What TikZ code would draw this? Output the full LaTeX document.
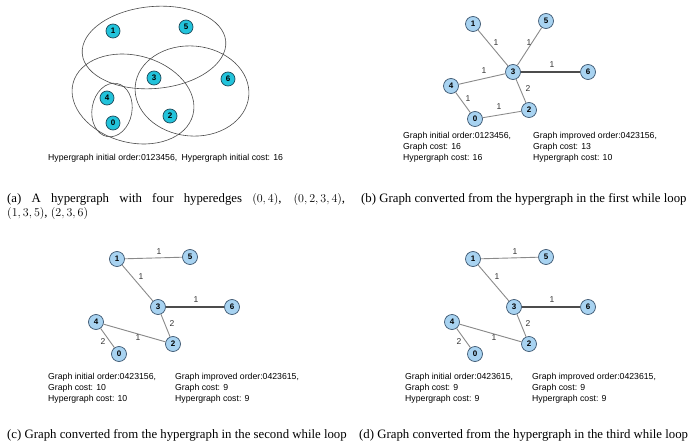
\documentclass[tikz,border=0pt]{standalone}
\usepackage{fontspec}
\setmainfont{Liberation Serif}
\setsansfont{Liberation Sans}
\definecolor{hvfill}{HTML}{22C3DB}
\definecolor{hvline}{HTML}{1D4A5A}
\definecolor{gvfill}{HTML}{A8D3F1}
\definecolor{gvline}{HTML}{3C5670}
\definecolor{ringgray}{HTML}{4A4A4A}
\definecolor{edgegray}{HTML}{8A8A8A}
\definecolor{strongedge}{HTML}{4C4C4C}
\begin{document}
\begin{tikzpicture}[x=1pt,y=-1pt,
  hv/.style={circle,draw=hvline,fill=hvfill,line width=0.7pt,minimum size=14pt,inner sep=0pt,
    font=\sffamily\bfseries\fontsize{8}{9}\selectfont},
  gv/.style={circle,draw=gvline,fill=gvfill,line width=0.7pt,minimum size=15pt,inner sep=0pt,
    font=\sffamily\bfseries\fontsize{8}{9}\selectfont},
  ring/.style={draw=ringgray,line width=0.6pt},
  gedge/.style={draw=edgegray,line width=0.9pt},
  strong/.style={draw=strongedge,line width=1.3pt},
  wt/.style={font=\sffamily\fontsize{8.5}{9}\selectfont,text=black!80,inner sep=0pt},
  info/.style={font=\sffamily\fontsize{8.7}{10.8}\selectfont,align=left,anchor=north west,inner sep=0pt},
  subcap/.style={font=\fontsize{12.8}{14}\selectfont,anchor=west,inner sep=0pt}
]
\useasboundingbox (0,0) rectangle (696,444);

% ---------- (a) hypergraph ----------
\draw[ring,rotate around={5:(154,47.5)}] (154,47.5) ellipse [x radius=72, y radius=41];
\draw[ring,rotate around={-15:(133,99)}] (133,99) ellipse [x radius=62, y radius=43.5];
\draw[ring,rotate around={-5:(192,91)}] (192,91) ellipse [x radius=57, y radius=45];
\draw[ring,rotate around={-10:(112,110)}] (112,110) ellipse [x radius=20, y radius=27];

\node[hv] (a1) at (113,31) {1};
\node[hv] (a5) at (186,27) {5};
\node[hv] (a3) at (154,78) {3};
\node[hv] (a6) at (228,79) {6};
\node[hv] (a4) at (107,98) {4};
\node[hv] (a0) at (113,123) {0};
\node[hv] (a2) at (170,116) {2};

\node[info,anchor=west] (atext) at (48,158)
  {Hypergraph initial order:0123456,\enspace Hypergraph initial cost: 16};

% ---------- (b) first while loop ----------
\node[gv] (b1) at (473,24) {1};
\node[gv] (b5) at (546,21) {5};
\node[gv] (b3) at (513,72) {3};
\node[gv] (b6) at (588,72) {6};
\node[gv] (b4) at (451,86) {4};
\node[gv] (b0) at (475,119) {0};
\node[gv] (b2) at (529,110) {2};
\draw[gedge] (b1) -- (b3);
\draw[gedge] (b5) -- (b3);
\draw[strong] (b3) -- (b6);
\draw[gedge] (b4) -- (b3);
\draw[gedge] (b3) -- (b2);
\draw[gedge] (b4) -- (b0);
\draw[gedge] (b0) -- (b2);
\node[wt] (bw13) at (496,43) {1};
\node[wt] (bw53) at (529,43) {1};
\node[wt] (bw36) at (552,65) {1};
\node[wt] (bw43) at (484,71) {1};
\node[wt] (bw32) at (528,89) {2};
\node[wt] (bw40) at (468,99) {1};
\node[wt] (bw02) at (499,107) {1};

\node[info] (binit) at (403,132)
  {Graph initial order:0123456,\\Graph cost: 16\\Hypergraph cost: 16};
\node[info] (bimp) at (533,132)
  {Graph improved order:0423156,\\Graph cost: 13\\Hypergraph cost: 10};

% ---------- (c) and (d): same graph, drawn twice ----------
\foreach \px/\sx in {c/0,d/356}{
  \begin{scope}[shift={(\sx,0)},name prefix=\px-]
    \node[gv] (n1) at (117,259) {1};
    \node[gv] (n5) at (190,257) {5};
    \node[gv] (n3) at (158,307) {3};
    \node[gv] (n6) at (232,307) {6};
    \node[gv] (n4) at (96,322) {4};
    \node[gv] (n2) at (173,344) {2};
    \node[gv] (n0) at (119,354) {0};
    \draw[gedge] (n1) -- (n5);
    \draw[gedge] (n1) -- (n3);
    \draw[strong] (n3) -- (n6);
    \draw[gedge] (n3) -- (n2);
    \draw[gedge] (n4) -- (n2);
    \draw[gedge] (n4) -- (n0);
    \node[wt] (w15) at (159,252) {1};
    \node[wt] (w13) at (141,277) {1};
    \node[wt] (w36) at (196,300) {1};
    \node[wt] (w32) at (172,324) {2};
    \node[wt] (w42) at (138,338) {1};
    \node[wt] (w40) at (103,342) {2};
  \end{scope}
}

\node[info] (cinit) at (48,373)
  {Graph initial order:0423156,\\Graph cost: 10\\Hypergraph cost: 10};
\node[info] (cimp) at (175,373)
  {Graph improved order:0423615,\\Graph cost: 9\\Hypergraph cost: 9};
\node[info] (dinit) at (405,373)
  {Graph initial order:0423615,\\Graph cost: 9\\Hypergraph cost: 9};
\node[info] (dimp) at (532,373)
  {Graph improved order:0423615,\\Graph cost: 9\\Hypergraph cost: 9};

% ---------- sub-captions ----------
\node[anchor=north west,inner sep=0pt,font=\fontsize{12.8}{14.5}\selectfont] (capa) at (7,193)
  {\parbox{338pt}{(a) A hypergraph with four hyperedges $(0,4)$, $(0,2,3,4)$,\linebreak
   $(1,3,5)$, $(2,3,6)$}};
\node[subcap] (capb) at (361,199) {(b) Graph converted from the hypergraph in the first while loop};
\node[subcap] (capc) at (7,435) {(c) Graph converted from the hypergraph in the second while loop};
\node[subcap] (capd) at (359,435) {(d) Graph converted from the hypergraph in the third while loop};
\end{tikzpicture}
\end{document}
